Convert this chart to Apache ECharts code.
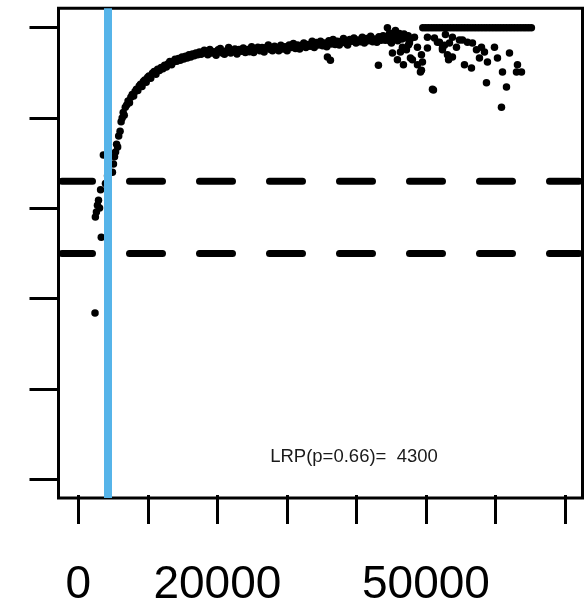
<!DOCTYPE html>
<html>
<head>
<meta charset="utf-8">
<script src="https://cdn.jsdelivr.net/npm/echarts@6/dist/echarts.min.js"></script>
<style>
html,body{margin:0;padding:0;background:#fff;}
#chart{width:584px;height:608px;}
</style>
</head>
<body>
<div id="chart"></div>
<script>
// ---- data ----
const LRP = 4300;
const thresholds = [0.66, 0.5];
const annotation = 'LRP(p=0.66)=  4300';
const xTicks = [0, 10000, 20000, 30000, 40000, 50000, 60000, 70000];
const xTickLabels = ['0', '', '20000', '', '', '50000', '', ''];
const yTicks = [0, 0.2, 0.4, 0.6, 0.8, 1.0];
const xRange = [-2848, 72445];
const yRange = [-0.0414, 1.043];

const earlyPts = [
  [2400, 0.368], [2450, 0.581], [2600, 0.592], [2750, 0.607], [2900, 0.618],
  [3050, 0.601], [3200, 0.641], [3300, 0.536], [3600, 0.718], [3900, 0.655],
  [4200, 0.672]
];
const risePts = [
  [4900, 0.680], [5050, 0.698], [5200, 0.714], [5350, 0.725], [5500, 0.742],
  [5650, 0.736], [5800, 0.760], [6000, 0.771], [6150, 0.792], [6300, 0.800],
  [6450, 0.812], [6600, 0.806], [6750, 0.824], [6950, 0.829], [7150, 0.838],
  [7350, 0.834], [7550, 0.846], [7750, 0.852], [7950, 0.849], [8150, 0.859],
  [8350, 0.864], [8550, 0.861], [8750, 0.871], [8950, 0.875], [9150, 0.870],
  [9350, 0.881], [9550, 0.884], [9750, 0.879], [9950, 0.890], [10150, 0.893],
  [10400, 0.888], [10650, 0.899], [10900, 0.903], [11150, 0.897], [11400, 0.908],
  [11650, 0.905], [11900, 0.912], [12150, 0.909], [12400, 0.917], [12650, 0.913],
  [12900, 0.920], [13150, 0.925], [13400, 0.918], [13650, 0.924], [13900, 0.930],
  [14150, 0.926], [14400, 0.932], [14650, 0.928], [14900, 0.935], [15150, 0.931],
  [15400, 0.937], [15650, 0.933], [15900, 0.940], [16150, 0.935], [16400, 0.942],
  [16650, 0.938], [16900, 0.944], [17150, 0.940], [17400, 0.946], [17650, 0.941],
  [17900, 0.944], [18100, 0.950]
];
const plateauPts = [
  [18300, 0.948], [18600, 0.940], [18900, 0.952], [19200, 0.944], [19500, 0.947],
  [19800, 0.939], [20100, 0.951], [20400, 0.954], [20700, 0.944], [21000, 0.941],
  [21300, 0.949], [21600, 0.956], [21900, 0.944], [22200, 0.948], [22500, 0.953],
  [22800, 0.942], [23100, 0.952], [23400, 0.948], [23700, 0.955], [24000, 0.945],
  [24300, 0.952], [24600, 0.947], [24900, 0.958], [25200, 0.945], [25500, 0.953],
  [25800, 0.957], [26100, 0.949], [26400, 0.956], [26700, 0.946], [27000, 0.956],
  [27300, 0.962], [27600, 0.952], [27900, 0.949], [28200, 0.959], [28500, 0.955],
  [28800, 0.949], [29100, 0.961], [29400, 0.953], [29700, 0.958], [30000, 0.949],
  [30300, 0.962], [30600, 0.956], [30900, 0.965], [31200, 0.954], [31500, 0.962],
  [31800, 0.953], [32100, 0.961], [32400, 0.966], [32700, 0.956], [33000, 0.963],
  [33300, 0.959], [33600, 0.970], [33900, 0.956], [34200, 0.967], [34500, 0.962],
  [34800, 0.970], [35100, 0.960], [35400, 0.966], [35700, 0.958], [36000, 0.971],
  [36300, 0.964], [36600, 0.974], [36900, 0.963], [37200, 0.970], [37500, 0.962],
  [37800, 0.970], [38100, 0.976], [38400, 0.966], [38700, 0.962], [39000, 0.974],
  [39300, 0.970], [39600, 0.977], [39900, 0.966], [40200, 0.973], [40500, 0.969],
  [40800, 0.979], [41100, 0.966], [41400, 0.976], [41700, 0.971], [42000, 0.981],
  [42300, 0.969], [42600, 0.975], [42900, 0.968], [43200, 0.980], [43500, 0.972],
  [43800, 0.982], [44100, 0.972], [44400, 0.979], [44700, 0.971], [45000, 0.985],
  [45300, 0.976], [45600, 0.982], [45900, 0.971], [46200, 0.982], [46500, 0.975],
  [46800, 0.986], [47100, 0.977], [47400, 0.982], [47700, 0.975]
];
const spreadPts = [
  [36222, 0.928], [35791, 0.935], [43122, 0.917], [44415, 1.000], [51028, 0.862],
  [45566, 0.994], [47434, 0.962], [46284, 0.946], [47722, 0.933], [48728, 0.918],
  [49159, 0.902], [46716, 0.918], [50165, 0.955], [51602, 0.968], [52321, 0.951],
  [44703, 0.987], [45422, 0.990], [46140, 0.987], [44990, 0.966], [45134, 0.944],
  [45853, 0.929], [46572, 0.957], [47147, 0.951], [47578, 0.966], [48297, 0.979],
  [48728, 0.957], [48009, 0.929], [49303, 0.940], [49447, 0.924], [49303, 0.906],
  [50165, 0.979], [51171, 0.977], [51890, 0.968], [52609, 0.961], [52321, 0.955],
  [53327, 0.966], [54334, 0.957], [54765, 0.973], [55915, 0.968], [56634, 0.966],
  [57209, 0.951], [57927, 0.957], [58359, 0.946], [59796, 0.957], [53040, 0.940],
  [53758, 0.935], [53200, 0.929], [55484, 0.918], [56490, 0.911], [57640, 0.933],
  [58790, 0.924], [60227, 0.933], [61952, 0.944], [60946, 0.902], [63102, 0.918],
  [63677, 0.902], [62958, 0.902], [50884, 0.864], [58646, 0.878], [61521, 0.869],
  [60802, 0.824], [52752, 0.985], [53758, 0.979], [55196, 0.973]
];
const topX = [
  49500, 49900, 50300, 50700, 51100, 51500, 51900, 52300, 52700, 53100,
  53500, 53900, 54300, 54700, 55100, 55500, 55900, 56300, 56700, 57100,
  57500, 57900, 58300, 58700, 59100, 59500, 59900, 60300, 60700, 61100,
  61500, 61900, 62300, 62700, 63100, 63500, 63900, 64300, 64700, 65100
];
const topY = 1.0;

// ---- chart ----
const allPts = [].concat(earlyPts, risePts, plateauPts, spreadPts, topX.map(x => [x, topY]));
const chart = echarts.init(document.getElementById('chart'), null, {renderer: 'canvas'});
const FONT = '"Liberation Sans", Arial, sans-serif';
// keep the round dash caps inside the plot box (about 3.5 px of the x scale)
const capPad = (xRange[1] - xRange[0]) / (584 - 58.5 - 1.5) * 3.5;

const option = {
  animation: false,
  backgroundColor: '#ffffff',
  grid: [
    {left: 58.5, right: 1.5, top: 8.3, bottom: 110, show: true, borderColor: '#000', borderWidth: 3, backgroundColor: 'transparent'},
    {left: 78.3, right: 19, top: 8.3, bottom: 110},
    {left: 58.5, right: 1.5, top: 27.7, bottom: 128.7}
  ],
  xAxis: [
    {type: 'value', gridIndex: 0, min: xRange[0], max: xRange[1], show: false},
    {type: 'value', gridIndex: 1, min: xTicks[0], max: xTicks[xTicks.length - 1], interval: 10000,
     axisLine: {show: false}, splitLine: {show: false},
     axisTick: {show: true, length: 29, inside: false, lineStyle: {color: '#000', width: 3}},
     axisLabel: {show: true, interval: 0, margin: 67, fontSize: 46, color: '#000', fontFamily: FONT,
       formatter: function (v) { const i = xTicks.indexOf(v); return i >= 0 ? xTickLabels[i] : ''; }}},
    {type: 'value', gridIndex: 2, min: 0, max: 1, show: false}
  ],
  yAxis: [
    {type: 'value', gridIndex: 0, min: yRange[0], max: yRange[1], show: false},
    {type: 'value', gridIndex: 1, min: 0, max: 1, show: false},
    {type: 'value', gridIndex: 2, min: yTicks[0], max: yTicks[yTicks.length - 1], interval: 0.2,
     axisLine: {show: false}, splitLine: {show: false}, axisLabel: {show: false},
     axisTick: {show: true, length: 29, inside: false, lineStyle: {color: '#000', width: 3}}}
  ],
  series: [
    {type: 'scatter', xAxisIndex: 0, yAxisIndex: 0, data: allPts, symbol: 'circle', symbolSize: 7.5,
     itemStyle: {color: '#000', opacity: 1}, z: 2, silent: true},
    ...thresholds.map(t => ({
      type: 'line', xAxisIndex: 0, yAxisIndex: 0, data: [[xRange[0] + capPad, t], [xRange[1] - capPad, t]],
      symbol: 'none', clip: true, z: 3, silent: true,
      lineStyle: {color: '#000', width: 7, type: [33, 37], dashOffset: 2.5, cap: 'round'}
    })),
    {type: 'line', xAxisIndex: 0, yAxisIndex: 0, data: [], z: 4, silent: true,
     markLine: {silent: true, symbol: 'none', label: {show: false},
       lineStyle: {color: '#56B4E9', width: 8, type: 'solid'},
       data: [{xAxis: LRP}]}}
  ],
  graphic: [
    {type: 'text', x: 354, y: 457, z: 10,
     style: {text: annotation, font: '18.5px ' + FONT, fill: '#1a1a1a', textAlign: 'center', textVerticalAlign: 'middle'}}
  ]
};
chart.setOption(option);
</script>
</body>
</html>
